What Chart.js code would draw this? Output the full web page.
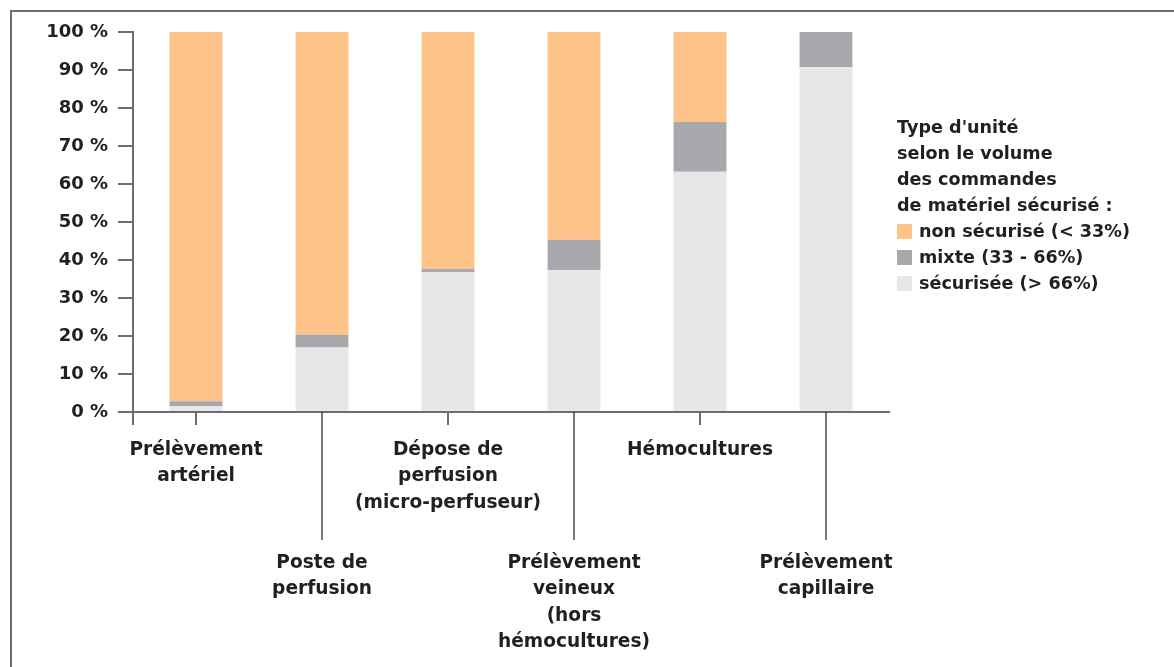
<!DOCTYPE html>
<html>
<head>
<meta charset="utf-8">
<script src="https://cdn.jsdelivr.net/npm/chart.js@4"></script>
<style>
  html, body { margin: 0; padding: 0; background: #fff; }
  #wrap { position: relative; width: 1174px; height: 667px; }
  #frame { position: absolute; left: 10px; top: 10px; right: 0; bottom: 0;
           border-top: 2px solid #6d6e71; border-left: 2px solid #6d6e71; }
  #legend { position: absolute; left: 897px; top: 114px; font: bold 17.6px "DejaVu Sans", sans-serif;
            color: #231f20; line-height: 26px; }
  #legend .item { display: flex; align-items: center; }
  #legend .box { width: 15px; height: 15px; margin-right: 7px; }
</style>
</head>
<body>
<div id="wrap">
  <div id="frame"></div>
  <canvas id="chart" width="1174" height="667"></canvas>
  <div id="legend"></div>
</div>
<script>
// categories (label lines)
const categories = [
  ["Prélèvement", "artériel"],
  ["Poste de", "perfusion"],
  ["Dépose de", "perfusion", "(micro-perfuseur)"],
  ["Prélèvement", "veineux", "(hors", "hémocultures)"],
  ["Hémocultures"],
  ["Prélèvement", "capillaire"]
];
// series values (%)
const securisee = [1.5, 17.0, 36.8, 37.4, 63.2, 90.8];
const mixte = [1.3, 3.3, 0.9, 7.9, 13.1, 9.2];
const nonSecurise = [97.2, 79.7, 62.3, 54.7, 23.7, 0];
const seriesNames = ["sécurisée (> 66%)", "mixte (33 - 66%)", "non sécurisé (< 33%)"];
const seriesColors = ["#e6e7e8", "#a7a9ac", "#fec389"];
const yTicks = [0, 10, 20, 30, 40, 50, 60, 70, 80, 90, 100];
const legendTitle = ["Type d'unité", "selon le volume", "des commandes", "de matériel sécurisé :"];

const axisColor = "#6d6e71";
const textColor = "#231f20";
const fontFamily = "'DejaVu Sans', sans-serif";

const xLabels = {
  id: "xLabels",
  afterDraw(chart) {
    const ctx = chart.ctx;
    const area = chart.chartArea;
    const x = chart.scales.x;
    ctx.save();
    // y axis runs a little below the x axis
    ctx.strokeStyle = axisColor;
    ctx.lineWidth = 2;
    ctx.beginPath();
    ctx.moveTo(area.left, area.bottom);
    ctx.lineTo(area.left, area.bottom + 13);
    ctx.stroke();
    ctx.font = "bold 18.6px " + fontFamily;
    ctx.fillStyle = textColor;
    ctx.textAlign = "center";
    ctx.textBaseline = "middle";
    categories.forEach(function (lines, i) {
      const px = x.getPixelForTick(i);
      const long = i % 2 === 1;
      ctx.strokeStyle = long ? "#231f20" : axisColor;
      ctx.lineWidth = long ? 1.2 : 2;
      ctx.beginPath();
      ctx.moveTo(px, area.bottom);
      ctx.lineTo(px, area.bottom + (long ? 128 : 13));
      ctx.stroke();
      const y0 = area.bottom + (long ? 151 : 38);
      lines.forEach(function (t, j) {
        ctx.fillText(t, px, y0 + j * 26.5);
      });
    });
    ctx.restore();
  }
};

const ctx = document.getElementById("chart").getContext("2d");
const myChart = new Chart(ctx, {
  type: "bar",
  data: {
    labels: categories.map((c) => c.join(" ")),
    datasets: [securisee, mixte, nonSecurise].map((vals, i) => ({
      label: seriesNames[i],
      data: vals,
      backgroundColor: seriesColors[i],
      borderWidth: 0,
      barPercentage: 0.42,
      categoryPercentage: 1
    }))
  },
  options: {
    responsive: false,
    animation: false,
    layout: { padding: { left: 0, top: 32, right: 285, bottom: 255 } },
    plugins: { legend: { display: false }, tooltip: { enabled: false } },
    scales: {
      x: {
        stacked: true,
        grid: { display: false },
        ticks: { display: false },
        border: { display: true, color: axisColor, width: 2 },
        afterFit: (s) => { s.height = 0; }
      },
      y: {
        stacked: true,
        min: 0,
        max: 100,
        afterBuildTicks: (s) => { s.ticks = yTicks.map((v) => ({ value: v })); },
        afterFit: (s) => { s.width = 133; },
        grid: { drawOnChartArea: false, tickLength: 15, color: axisColor, lineWidth: 2 },
        border: { color: axisColor, width: 2 },
        ticks: {
          padding: 10,
          color: textColor,
          font: { family: fontFamily, size: 18, weight: "bold" },
          callback: (v) => v + " %"
        }
      }
    }
  },
  plugins: [xLabels]
});

// legend
const legend = document.getElementById("legend");
legendTitle.forEach(function (t) {
  const d = document.createElement("div");
  d.textContent = t;
  legend.appendChild(d);
});
[2, 1, 0].forEach(function (i) {
  const d = document.createElement("div");
  d.className = "item";
  const b = document.createElement("span");
  b.className = "box";
  b.style.background = seriesColors[i];
  const s = document.createElement("span");
  s.textContent = seriesNames[i];
  d.appendChild(b);
  d.appendChild(s);
  legend.appendChild(d);
});
</script>
</body>
</html>
